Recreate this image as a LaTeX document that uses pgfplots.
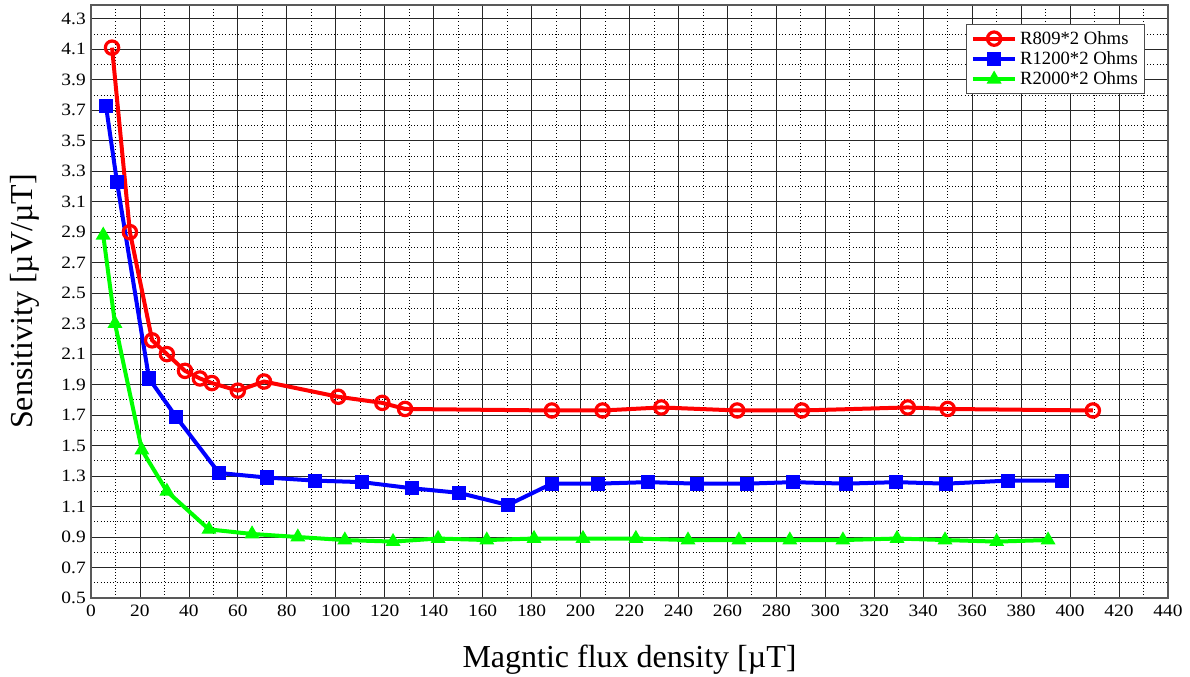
\documentclass[border=0pt]{standalone}
\usepackage{fontspec}
\setmainfont{Liberation Serif}
\usepackage{pgfplots}
\pgfplotsset{compat=1.18}
\begin{document}
\begin{tikzpicture}
\useasboundingbox (-68.25pt,-59.25pt) rectangle (824.25pt,448.5pt);
\begin{axis}[
  at={(0pt,0pt)}, anchor=south west,
  scale only axis, width=807.75pt, height=444.75pt,
  xmin=0, xmax=440, ymin=0.5, ymax=4.39,
  xtick={0,20,...,440},
  ytick={0.5,0.7,...,4.31},
  minor x tick num=1, minor y tick num=1,
  grid=both,
  major grid style={black!85, line width=0.6pt},
  minor grid style={black, dotted, line width=0.6pt},
  axis line style={black!65, line width=1.3pt},
  major tick length=0pt, minor tick length=0pt,
  tick label style={font=\fontsize{13}{15}\selectfont, xscale=1.12},
  /pgf/number format/assume math mode=true,
  yticklabel style={/pgf/number format/.cd, fixed, fixed zerofill, precision=1},
  xticklabel style={yshift=-2pt},
  xlabel={Magntic flux density [µT]},
  ylabel={Sensitivity [µV/µT]},
  xlabel style={font=\fontsize{24}{27}\selectfont, yshift=-14pt},
  ylabel style={font=\fontsize{24}{27}\selectfont, yshift=9pt},
  legend style={at={(0.9787,0.968)}, anchor=north east, draw=black!70, line width=0.8pt,
    font=\fontsize{14}{16}\selectfont, row sep=0pt, inner sep=3pt},
  legend cell align=left,
  legend image code/.code={\draw[mark repeat=2,mark phase=2] plot coordinates {(0pt,0pt) (16pt,0pt) (32pt,0pt)};},
  every axis plot/.append style={line width=3pt},
]
\addplot[red, mark=o, mark size=5pt, mark options={fill=white, line width=2.4pt}] coordinates {
(8.6,4.11) (15.9,2.90) (25,2.19) (31,2.10) (38.4,1.99) (44.5,1.94) (49.4,1.91)
(60,1.86) (70.7,1.92) (101,1.82) (119,1.78) (128.3,1.74) (188.3,1.73) (209,1.73)
(233,1.75) (264,1.73) (290.4,1.73) (333.7,1.75) (350,1.74) (409.3,1.73)};
\addlegendentry{R809*2 Ohms}
\addplot[blue, mark=square*, mark size=4.8pt, mark options={fill=blue, line width=1pt}] coordinates {
(6.1,3.73) (10.6,3.23) (23.7,1.94) (34.7,1.69) (52.3,1.32) (71.9,1.29) (91.5,1.27)
(110.7,1.26) (131,1.22) (150.3,1.19) (170.3,1.11) (188.3,1.25) (207,1.25) (227.5,1.26)
(247.5,1.25) (268,1.25) (286.8,1.26) (308.4,1.25) (329,1.26) (349.3,1.25) (374.6,1.27) (396.7,1.27)};
\addlegendentry{R1200*2 Ohms}
\addplot[green, mark=triangle*, mark size=5.5pt, mark options={fill=green, line width=1pt}] coordinates {
(5,2.88) (9.8,2.30) (20.8,1.47) (31,1.20) (48.2,0.95) (65.8,0.92) (84.5,0.90)
(103.7,0.88) (123.4,0.87) (141.8,0.89) (161.7,0.88) (181,0.89) (201,0.89) (222.6,0.89)
(243.9,0.88) (264.7,0.88) (285.5,0.88) (307.2,0.88) (329.3,0.89) (348.9,0.88) (370,0.87) (391,0.88)};
\addlegendentry{R2000*2 Ohms}
\end{axis}
\end{tikzpicture}
\end{document}
